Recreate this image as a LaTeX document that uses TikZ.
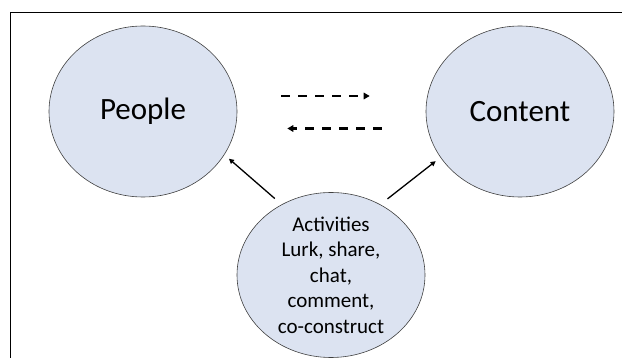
\documentclass[tikz,border=0pt]{standalone}
\usepackage{fontspec}
\setmainfont{Carlito}
\usepackage{tikz}
\usetikzlibrary{arrows.meta,shapes.geometric}

\begin{document}
\begin{tikzpicture}[>={Triangle[length=5pt,width=5pt]},x=1pt,y=-1pt,
  blob/.style={ellipse,draw=black!75,line width=0.6pt,fill=blobfill,inner sep=0pt},
  big/.style={blob,minimum width=188pt,minimum height=171pt,font=\fontsize{31}{37}\selectfont},
  dash arrow/.style={->,line width=2.6pt,dash pattern=on 9pt off 8pt,>={Triangle[length=6pt,width=6.5pt]}}]
\definecolor{blobfill}{HTML}{DCE3F1}

\useasboundingbox (0,0) rectangle (622,358);
\draw[line width=0.9pt] (622,12) -- (10,12) -- (10,358);

\node[big] (p) at (143,111.5) {People};
\node[big] (c) at (520,111.5) {Content};
\node[blob,minimum width=188pt,minimum height=162pt,align=center,
  font=\fontsize{21}{25.5}\selectfont] (a) at (331,275)
  {Activities\\Lurk, share,\\chat,\\comment,\\co-construct};

\draw[->,line width=1.3pt,shorten <=9pt,shorten >=6pt] (a.125) -- (p.-28);
\draw[->,line width=1.3pt,shorten <=9pt,shorten >=6pt] (a.55) -- (c.210);

\draw[dash arrow,shorten <=44pt,shorten >=56pt] ([yshift=15.5pt]p.east) -- ([yshift=15.5pt]c.west);
\draw[dash arrow,shorten <=44pt,shorten >=50pt] ([yshift=-17pt]c.west) -- ([yshift=-17pt]p.east);

\end{tikzpicture}
\end{document}
